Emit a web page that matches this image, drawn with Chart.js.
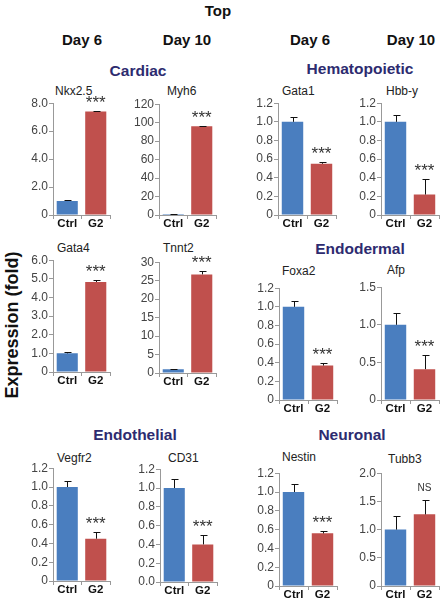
<!DOCTYPE html>
<html>
<head>
<meta charset="utf-8">
<script src="https://cdn.jsdelivr.net/npm/chart.js"></script>
<style>
  body { margin: 0; background: #fff; }
  #fig { position: relative; width: 444px; height: 603px; overflow: hidden; font-family: "Liberation Sans", Arial, sans-serif; }
  .txt { position: absolute; white-space: nowrap; }
  .panel { position: absolute; }
</style>
</head>
<body>
<div id="fig"></div>
<script>
// data
var categories = ["Ctrl", "G2"];
var genes = ["Nkx2.5", "Myh6", "Gata1", "Hbb-y", "Gata4", "Tnnt2", "Foxa2", "Afp", "Vegfr2", "CD31", "Nestin", "Tubb3"];
var ctrlMeans  = [1.0, 1.0, 1.0, 1.0, 1.0, 1.0, 1.0, 1.0, 1.0, 1.0, 1.0, 1.0];
var ctrlErrors = [0.06, 0.3, 0.05, 0.07, 0.05, 0.2, 0.06, 0.16, 0.06, 0.1, 0.08, 0.24];
var g2Means    = [7.4, 96, 0.55, 0.22, 4.83, 26.7, 0.37, 0.41, 0.45, 0.40, 0.56, 1.27];
var g2Errors   = [0.07, 0.8, 0.015, 0.17, 0.1, 0.8, 0.03, 0.19, 0.07, 0.1, 0.03, 0.26];
var sigLabels  = ["***", "***", "***", "***", "***", "***", "***", "***", "***", "***", "***", "NS"];
var axisMax    = [8, 120, 1.2, 1.2, 6, 30, 1.2, 1.5, 1.2, 1.2, 1.2, 2];
var axisStep   = [2, 20, 0.2, 0.2, 1, 5, 0.2, 0.5, 0.2, 0.2, 0.2, 0.5];
var tickLabels = [
  ["0", "2.0", "4.0", "6.0", "8.0"],
  ["0", "20", "40", "60", "80", "100", "120"],
  ["0", "0.2", "0.4", "0.6", "0.8", "1.0", "1.2"],
  ["0", "0.2", "0.4", "0.6", "0.8", "1.0", "1.2"],
  ["0", "1.0", "2.0", "3.0", "4.0", "5.0", "6.0"],
  ["0", "5", "10", "15", "20", "25", "30"],
  ["0", "0.2", "0.4", "0.6", "0.8", "1.0", "1.2"],
  ["0", "0.5", "1.0", "1.5"],
  ["0", "0.2", "0.4", "0.6", "0.8", "1.0", "1.2"],
  ["0.0", "0.2", "0.4", "0.6", "0.8", "1.0", "1.2"],
  ["0", "0.2", "0.4", "0.6", "0.8", "1.0", "1.2"],
  ["0", "0.5", "1.0", "1.5", "2.0"]
];

// layout (axis left x, top tick y, zero y, plot width, title x, title y)
var panelBoxes = [
  [53, 103, 215, 57, 55, 91], [159, 104, 215, 57, 167, 91],
  [278, 103, 215, 58, 282, 91], [381, 103, 215, 58, 386, 91],
  [53, 260, 372, 57, 57, 248], [159, 262, 373, 57, 163, 248],
  [279, 288, 400, 58, 282, 271], [381, 287, 400, 58, 387, 270],
  [53, 468, 581, 57, 57, 458], [160, 469, 582, 57, 168, 458],
  [279, 473, 586, 58, 282, 457], [381, 473, 586, 58, 388, 459]
];

var fig = document.getElementById("fig");

function addText(text, x, cy, size, weight, color, align) {
  var d = document.createElement("div");
  d.className = "txt";
  d.textContent = text;
  d.style.fontSize = size + "px";
  d.style.lineHeight = size + "px";
  d.style.fontWeight = weight;
  d.style.color = color;
  d.style.top = (cy - size / 2) + "px";
  d.style.left = x + "px";
  if (align == "center") d.style.transform = "translateX(-50%)";
  fig.appendChild(d);
  return d;
}

var navy = "#2d2b6f";
addText("Top", 218, 10.5, 15, "bold", "#111", "center");
addText("Day 6", 82, 39.5, 15, "bold", "#111", "center");
addText("Day 10", 187, 39.5, 15, "bold", "#111", "center");
addText("Day 6", 310, 39.5, 15, "bold", "#111", "center");
addText("Day 10", 411, 39.5, 15, "bold", "#111", "center");
addText("Cardiac", 138, 70.5, 15.5, "bold", navy, "center");
addText("Hematopoietic", 360, 68.5, 15.5, "bold", navy, "center");
addText("Endodermal", 360, 249, 15.5, "bold", navy, "center");
addText("Endothelial", 135, 434.5, 15.5, "bold", navy, "center");
addText("Neuronal", 352, 434.5, 15.5, "bold", navy, "center");

var ylab = addText("Expression (fold)", 12, 325, 18, "bold", "#111", "center");
ylab.style.transform = "translateX(-50%) rotate(-90deg)";

var errorBars = {
  id: "errorBars",
  afterDatasetsDraw: function(chart) {
    var ctx = chart.ctx;
    var ys = chart.scales.y;
    var ds = chart.data.datasets[0];
    var meta = chart.getDatasetMeta(0);
    ctx.save();
    ctx.strokeStyle = "#111";
    ctx.lineWidth = 1;
    for (var j = 0; j < meta.data.length; j++) {
      var bar = meta.data[j];
      var top = ys.getPixelForValue(ds.data[j] + ds.errors[j]);
      var x = Math.round(bar.x) + 0.5;
      ctx.beginPath();
      ctx.moveTo(x, bar.y);
      ctx.lineTo(x, Math.round(top) + 0.5);
      ctx.moveTo(x - 3, Math.round(top) + 0.5);
      ctx.lineTo(x + 4, Math.round(top) + 0.5);
      ctx.stroke();
    }
    var last = meta.data.length - 1;
    var sig = ds.sig;
    var topG2 = ys.getPixelForValue(ds.data[last] + ds.errors[last]);
    ctx.fillStyle = "#333";
    ctx.textAlign = "center";
    ctx.textBaseline = "alphabetic";
    if (sig == "NS") {
      ctx.font = "10px 'Liberation Sans', Arial, sans-serif";
      ctx.fillText(sig, meta.data[last].x, topG2 - 9);
    } else {
      ctx.font = "17px 'Liberation Sans', Arial, sans-serif";
      ctx.fillText(sig, meta.data[last].x, topG2 - 3);
    }
    ctx.restore();
  }
};

function makePanel(i) {
  var b = panelBoxes[i];
  var yAxisW = 40, padTop = 8, xAxisH = 22, padRight = 4;
  var plotW = b[3], plotH = b[2] - b[1];
  var w = yAxisW + plotW + padRight, h = padTop + plotH + xAxisH;

  addText(genes[i], b[4], b[5], 12, "normal", "#222", "left");

  var holder = document.createElement("div");
  holder.className = "panel";
  holder.style.left = (b[0] - yAxisW) + "px";
  holder.style.top = (b[1] - padTop) + "px";
  holder.style.width = w + "px";
  holder.style.height = h + "px";
  var canvas = document.createElement("canvas");
  canvas.width = w;
  canvas.height = h;
  holder.appendChild(canvas);
  fig.appendChild(holder);

  var labels = tickLabels[i];
  new Chart(canvas, {
    type: "bar",
    data: {
      labels: categories,
      datasets: [{
        data: [ctrlMeans[i], g2Means[i]],
        errors: [ctrlErrors[i], g2Errors[i]],
        sig: sigLabels[i],
        backgroundColor: ["#4a7ebf", "#c0504d"],
        borderWidth: 0,
        barPercentage: 0.74,
        categoryPercentage: 1.0
      }]
    },
    options: {
      responsive: false,
      animation: false,
      layout: { padding: { top: padTop, right: padRight, left: 0, bottom: 0 } },
      plugins: { legend: { display: false }, tooltip: { enabled: false }, title: { display: false } },
      scales: {
        x: {
          offset: true,
          grid: { offset: true, drawOnChartArea: false, drawTicks: true, tickLength: 4, color: "#999" },
          border: { display: true, color: "#999" },
          ticks: { padding: -2, color: "#111", font: { family: "'Liberation Sans', Arial, sans-serif", size: 11.5, weight: "bold" } },
          afterFit: function(s) { s.height = xAxisH; }
        },
        y: {
          min: 0,
          max: axisMax[i],
          grid: { drawOnChartArea: false, drawTicks: true, tickLength: 4, color: "#999" },
          border: { display: true, color: "#999" },
          ticks: {
            stepSize: axisStep[i],
            padding: 1,
            color: "#444",
            font: { family: "'Liberation Sans', Arial, sans-serif", size: 12 },
            callback: function(value, index) { return labels[index]; }
          },
          afterFit: function(s) { s.width = yAxisW; }
        }
      }
    },
    plugins: [errorBars]
  });
}

for (var i = 0; i < genes.length; i++) {
  makePanel(i);
}
</script>
</body>
</html>
